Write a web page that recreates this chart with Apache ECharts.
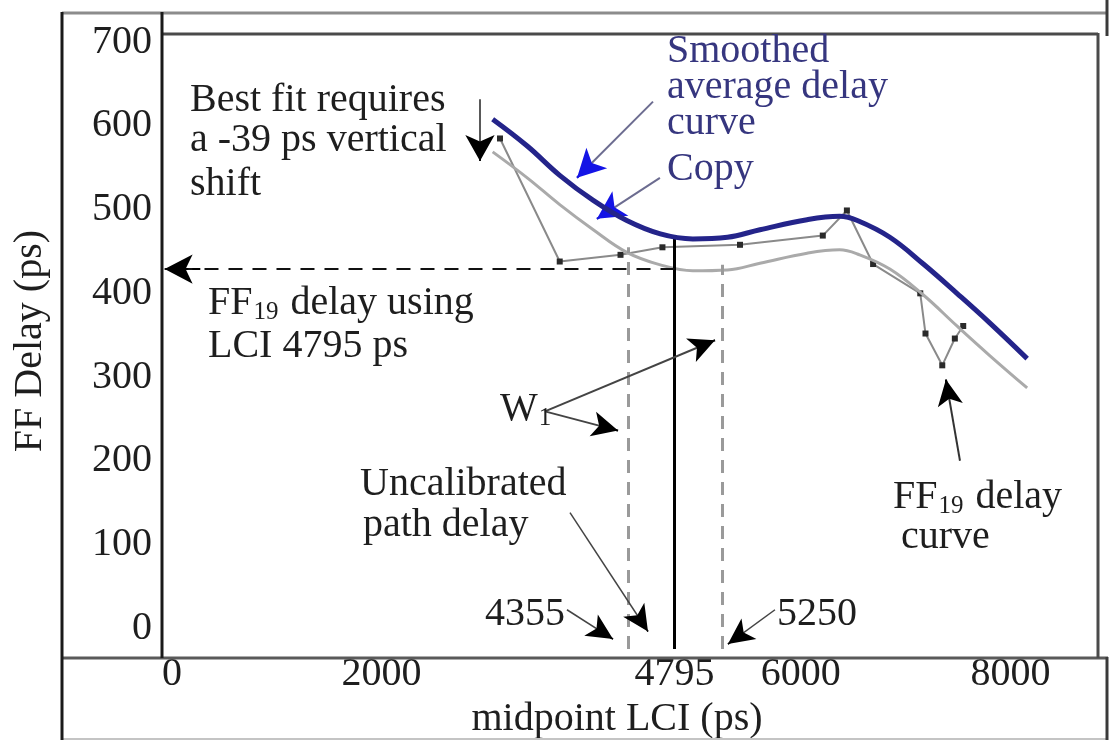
<!DOCTYPE html>
<html>
<head>
<meta charset="utf-8">
<script src="https://cdn.jsdelivr.net/npm/echarts@6/dist/echarts.min.js"></script>
<style>
  html, body { margin: 0; padding: 0; background: #fff; }
  #chart { width: 1111px; height: 744px; }
</style>
</head>
<body>
<div id="chart"></div>
<script>
// Smoothed average delay curve (LCI in ps, delay in ps)
const avgLci   = [3060, 3390, 3700, 4020, 4340, 4660, 4970, 5300, 5610, 6060, 6370, 6540, 6850, 7170, 7490, 7800, 8160];
const avgDelay = [608, 576, 541, 511, 487, 471, 465, 467, 476, 488, 492, 487, 467, 435, 400, 365, 322];
// Copy of the smoothed curve after the best-fit vertical shift
const copyDelay = [569, 538, 506, 476, 449, 434, 427, 428, 436, 448, 452, 447, 429, 398, 361, 326, 287];
// FF19 measured delay curve
const ffLci   = [3130, 3700, 4280, 4680, 5420, 6210, 6440, 6690, 7140, 7190, 7350, 7470, 7550];
const ffDelay = [585, 438, 446, 455, 458, 469, 499, 435, 400, 352, 314, 346, 361];

// Key LCI values and the delay read at the chosen LCI
const lciFit = 4795, lciLow = 4355, lciHigh = 5250;
const ffDelayAtFit = 429;
// Heights where the marker lines meet the curves
const fitLineTop = 467, lowLineTop = 455, highLineTop = 434;

// Axis ticks
const xTicks = [0, 2000, 4795, 6000, 8000];
const yTicks = [0, 100, 200, 300, 400, 500, 600, 700];
const xMin = -95, xMax = 8836, yMin = -25, yMax = 711;

const FONT = "'Liberation Serif', 'Times New Roman', serif";
const INK = '#1e1e1e';
const NAVY = '#24248a';
const NAVY_TEXT = '#36367f';
const HEAD_BLUE = '#1414e6';

const zip = (xs, ys) => xs.map((x, i) => [x, ys[i]]);

// Arrow helper: a plain shaft plus a head that may be coloured differently
function arrow(from, to, shaft, head, width, type, size) {
  const s = size || [19, 26];
  const k = 0.93;
  const near = [from[0] + (to[0] - from[0]) * k, from[1] + (to[1] - from[1]) * k];
  return [
    [{ coord: from, symbol: 'none', lineStyle: { color: shaft, width: width, type: type || 'solid' } },
     { coord: to, symbol: 'none' }],
    [{ coord: near, symbol: 'none', lineStyle: { color: head, width: width } },
     { coord: to, symbol: 'arrow', symbolSize: s }]
  ];
}

const markerLines = [
  [{ coord: [lciFit, yMin], symbol: 'none', lineStyle: { color: '#000', width: 3, type: 'solid' } },
   { coord: [lciFit, fitLineTop], symbol: 'none' }],
  [{ coord: [lciLow, yMin], symbol: 'none', lineStyle: { color: '#9a9a9a', width: 3, type: [13, 9] } },
   { coord: [lciLow, lowLineTop], symbol: 'none' }],
  [{ coord: [lciHigh, yMin], symbol: 'none', lineStyle: { color: '#9a9a9a', width: 3, type: [13, 9] } },
   { coord: [lciHigh, highLineTop], symbol: 'none' }]
];

const arrows = [].concat(
  arrow([lciFit, ffDelayAtFit], [-70, ffDelayAtFit], '#111', '#000', 2, [14, 10], [22, 28]),
  arrow([2939, 632], [2939, 558], '#222', '#000', 1.5, null, [22, 26]),
  arrow([4590, 629], [3865, 538], '#6c6c90', HEAD_BLUE, 2, null, [22, 28]),
  arrow([4656, 538], [4055, 489], '#6c6c90', HEAD_BLUE, 2, null, [22, 28]),
  arrow([3559, 259], [4256, 236], '#444', '#000', 2),
  arrow([3559, 259], [5181, 344], '#444', '#000', 2),
  arrow([3798, 138], [4542, -4], '#444', '#000', 1.5),
  arrow([3769, 22], [4208, -13], '#444', '#000', 1.5),
  arrow([5754, 22], [5305, -19], '#444', '#000', 1.5),
  arrow([7519, 200], [7385, 297], '#333', '#000', 2)
);

// Text width measurement for subscripted labels
const ctx = document.createElement('canvas').getContext('2d');
function textWidth(str, size) {
  ctx.font = size + 'px ' + FONT;
  return ctx.measureText(str).width;
}
function label(str, x, y, color) {
  return { type: 'text', x: x, y: y, z: 50,
    style: { text: str, fill: color || INK, font: '40px ' + FONT, verticalAlign: 'middle', align: 'left' } };
}
// main text, subscript, trailing text
function subLabel(pre, sub, post, x, y) {
  const w1 = textWidth(pre, 40);
  const w2 = textWidth(sub, 25);
  return [
    label(pre, x, y),
    { type: 'text', x: x + w1 + 1, y: y + 9, z: 50,
      style: { text: sub, fill: INK, font: '25px ' + FONT, verticalAlign: 'middle', align: 'left' } },
    label(post, x + w1 + w2 + 3, y)
  ];
}

function hline(x1, x2, y, color, w) {
  return { type: 'line', z: 40, shape: { x1: x1, y1: y, x2: x2, y2: y }, style: { stroke: color, lineWidth: w } };
}
function vline(x, y1, y2, color, w) {
  return { type: 'line', z: 40, shape: { x1: x, y1: y1, x2: x, y2: y2 }, style: { stroke: color, lineWidth: w } };
}

const frame = [
  hline(62, 1108, 13, '#8c8c8c', 3),
  hline(162, 1098, 34, '#4a4a4a', 3),
  hline(62, 1108, 658, '#5a5a5a', 3),
  hline(62, 1108, 739, '#c4c4c4', 2),
  vline(62, 12, 740, '#1a1a1a', 3),
  vline(162, 12, 658, '#1a1a1a', 3),
  vline(1098, 33, 658, '#4a4a4a', 3),
  vline(1107, 0, 36, '#3a3a3a', 3),
  vline(1107, 657, 740, '#3a3a3a', 3)
];

const texts = [
  label('Best fit requires', 190, 100),
  label('a -39 ps vertical', 190, 140),
  label('shift', 190, 184),
  label('Smoothed', 667, 51, NAVY_TEXT),
  label('average delay', 667, 87, NAVY_TEXT),
  label('curve', 667, 123, NAVY_TEXT),
  label('Copy', 667, 169, NAVY_TEXT),
  label('LCI 4795 ps', 208, 346),
  label('Uncalibrated', 360, 484),
  label('path delay', 363, 525),
  label('4355', 485, 614),
  label('5250', 777, 614),
  label('curve', 901, 537)
].concat(
  subLabel('FF', '19', ' delay using', 208, 303),
  subLabel('W', '1', '', 500, 409),
  subLabel('FF', '19', ' delay', 893, 497)
);

const chart = echarts.init(document.getElementById('chart'), null, { renderer: 'canvas' });
chart.setOption({
  animation: false,
  backgroundColor: '#fff',
  grid: { left: 162, right: 13, top: 33, bottom: 86, containLabel: false },
  xAxis: {
    type: 'value', min: xMin, max: xMax,
    name: 'midpoint LCI (ps)', nameLocation: 'middle', nameGap: 42,
    nameTextStyle: { fontFamily: FONT, fontSize: 40, color: INK, padding: [0, 26, 0, 0] },
    axisLine: { show: false }, axisTick: { show: false }, splitLine: { show: false },
    axisLabel: { customValues: xTicks, formatter: v => String(v),
      fontFamily: FONT, fontSize: 40, color: INK, margin: 5 }
  },
  yAxis: {
    type: 'value', min: yMin, max: yMax,
    name: 'FF Delay (ps)', nameLocation: 'middle', nameGap: 112,
    nameTextStyle: { fontFamily: FONT, fontSize: 40, color: INK },
    axisLine: { show: false }, axisTick: { show: false }, splitLine: { show: false },
    axisLabel: { customValues: yTicks, formatter: v => String(v),
      fontFamily: FONT, fontSize: 40, color: INK, margin: 10 }
  },
  graphic: frame.concat(texts),
  series: [
    {
      name: 'FF19 delay curve', type: 'line', data: zip(ffLci, ffDelay),
      symbol: 'rect', symbolSize: 6, z: 3,
      itemStyle: { color: '#2a2a2a' },
      lineStyle: { color: '#8a8a8a', width: 2 }
    },
    {
      name: 'Copy', type: 'line', smooth: 0.4, data: zip(avgLci, copyDelay),
      symbol: 'none', z: 4,
      lineStyle: { color: '#aaaaaa', width: 3 }
    },
    {
      name: 'Smoothed average delay curve', type: 'line', smooth: 0.4, data: zip(avgLci, avgDelay),
      symbol: 'none', z: 5,
      lineStyle: { color: NAVY, width: 5 }
    },
    {
      name: 'markers', type: 'line', data: [], symbol: 'none', z: 6,
      markLine: { silent: true, animation: false, label: { show: false }, symbol: 'none',
        data: markerLines.concat(arrows) }
    }
  ]
});
</script>
</body>
</html>
